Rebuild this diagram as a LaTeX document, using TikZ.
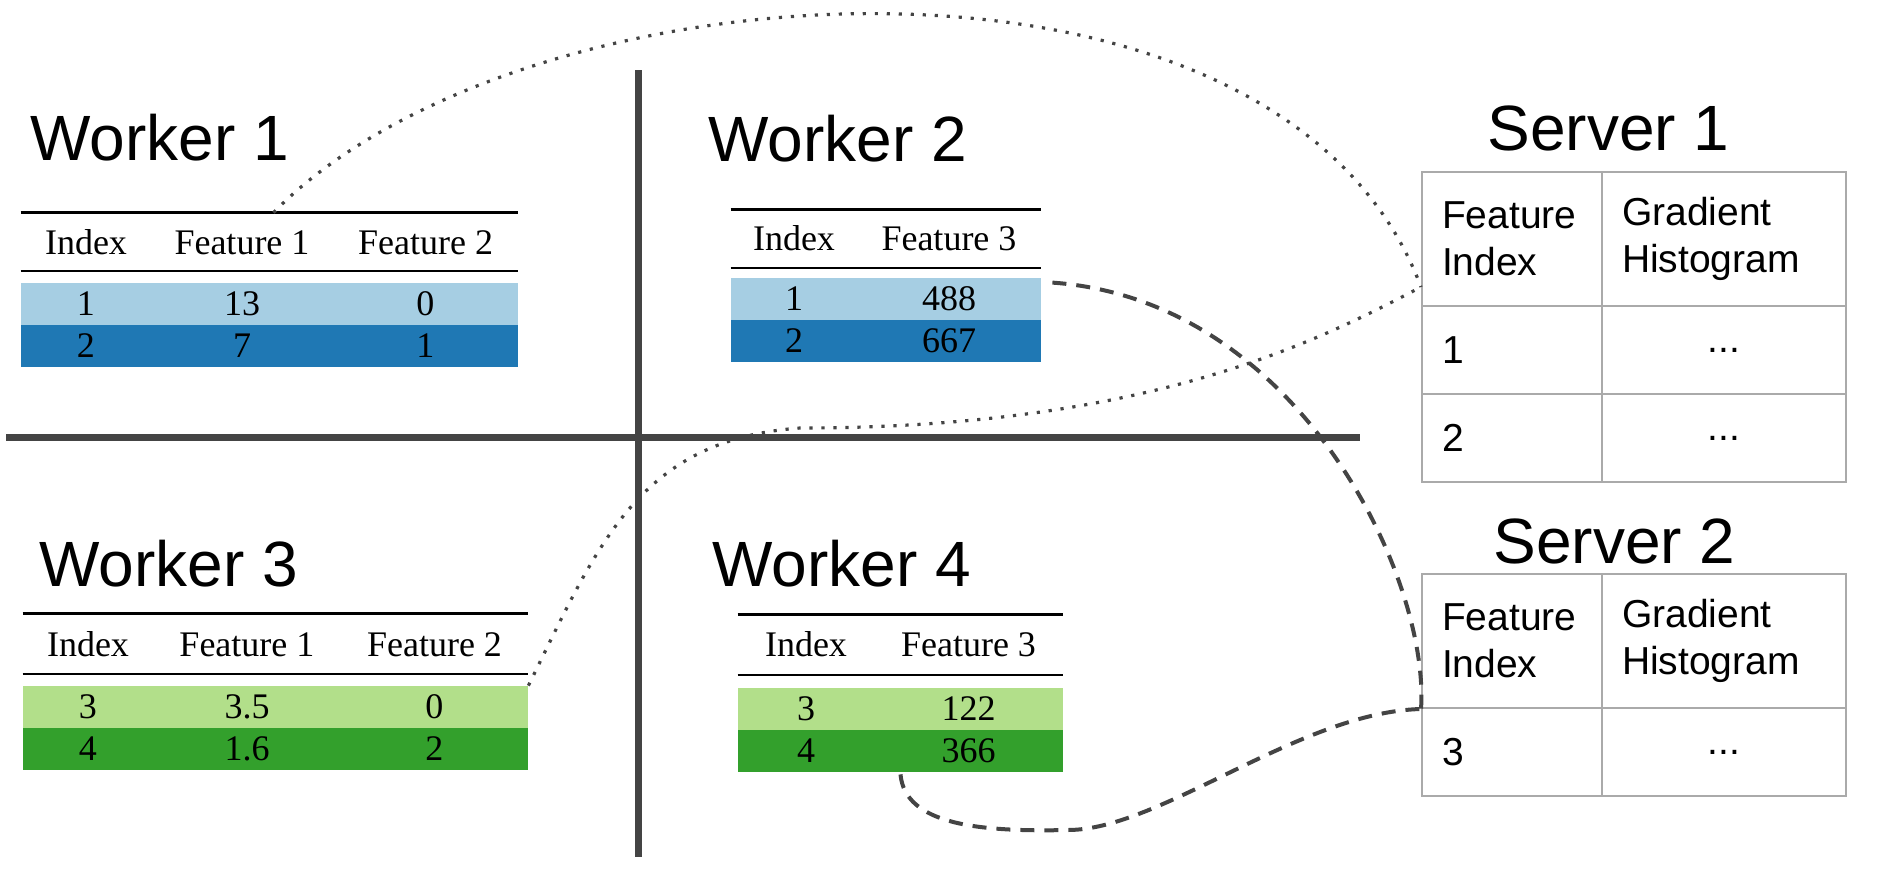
\documentclass[tikz,border=0pt]{standalone}
\usepackage{fontspec}
\newfontfamily\titlefont{Liberation Sans}
\newfontfamily\tabfont{Liberation Serif}
\definecolor{bluelt}{HTML}{A6CEE3}
\definecolor{bluedk}{HTML}{1F78B4}
\definecolor{greenlt}{HTML}{B2DF8A}
\definecolor{greendk}{HTML}{33A02C}
\definecolor{cellgray}{HTML}{AAAAAA}
\definecolor{linegray}{HTML}{444444}
\begin{document}
\begin{tikzpicture}[
    x=0.5pt, y=-0.5pt,
    wtitle/.style={anchor=base west, inner sep=0, font=\titlefont\fontsize{32}{38}\selectfont},
    thead/.style={rectangle, inner sep=0, minimum height=29pt, font=\tabfont\fontsize{18}{21}\selectfont},
    trow/.style={thead, minimum height=21pt},
    rowbl/.style={trow, fill=bluelt},
    rowbd/.style={trow, fill=bluedk},
    rowgl/.style={trow, fill=greenlt},
    rowgd/.style={trow, fill=greendk},
    toprule/.style={line width=1.5pt},
    midrule/.style={line width=1pt},
    cross/.style={line width=3.5pt, linegray},
    scell/.style={rectangle, draw=cellgray, line width=1pt, inner xsep=10pt, inner ysep=0, align=left, font=\titlefont\fontsize{19.5}{23.5}\selectfont},
    dotline/.style={linegray, line width=1.6pt, dash pattern=on 1.6pt off 4.4pt},
    dashline/.style={linegray, line width=2pt, dash pattern=on 7pt off 5pt}
]
\useasboundingbox (0,0) rectangle (1885,873);

% Quadrant lines
\draw[cross] (638,70) -- (638,857);
\draw[cross] (6,437) -- (1360,437);

% Worker 1
\node[wtitle] (w1title) at (30,160) {Worker 1};
\node[thead] (w1head) at (269.5,242) {\makebox[65pt]{Index}\makebox[91pt]{Feature 1}\makebox[92.5pt]{Feature 2}};
\node[rowbl] (w1r1) at (269.5,304) {\makebox[65pt]{1}\makebox[91pt]{13}\makebox[92.5pt]{0}};
\node[rowbd] (w1r2) at (269.5,346) {\makebox[65pt]{2}\makebox[91pt]{7}\makebox[92.5pt]{1}};
\draw[toprule] (w1head.north west) -- (w1head.north east);
\draw[midrule] (w1head.south west) -- (w1head.south east);

% Worker 2
\node[wtitle] (w2title) at (708,161) {Worker 2};
\node[thead] (w2head) at (886,238.5) {\makebox[63pt]{Index}\makebox[92pt]{Feature 3}};
\node[rowbl] (w2r1) at (886,299) {\makebox[63pt]{1}\makebox[92pt]{488}};
\node[rowbd] (w2r2) at (886,341) {\makebox[63pt]{2}\makebox[92pt]{667}};
\draw[toprule] (w2head.north west) -- (w2head.north east);
\draw[midrule] (w2head.south west) -- (w2head.south east);

% Worker 3
\node[wtitle] (w3title) at (39,586) {Worker 3};
\node[thead, minimum height=30pt] (w3head) at (275.5,644) {\makebox[65pt]{Index}\makebox[94pt]{Feature 1}\makebox[93.5pt]{Feature 2}};
\node[rowgl] (w3r1) at (275.5,707) {\makebox[65pt]{3}\makebox[94pt]{3.5}\makebox[93.5pt]{0}};
\node[rowgd] (w3r2) at (275.5,749) {\makebox[65pt]{4}\makebox[94pt]{1.6}\makebox[93.5pt]{2}};
\draw[toprule] (w3head.north west) -- (w3head.north east);
\draw[midrule] (w3head.south west) -- (w3head.south east);

% Worker 4
\node[wtitle] (w4title) at (712,586) {Worker 4};
\node[thead, minimum height=30pt] (w4head) at (900.5,644.5) {\makebox[68pt]{Index}\makebox[94.5pt]{Feature 3}};
\node[rowgl] (w4r1) at (900.5,709) {\makebox[68pt]{3}\makebox[94.5pt]{122}};
\node[rowgd] (w4r2) at (900.5,751) {\makebox[68pt]{4}\makebox[94.5pt]{366}};
\draw[toprule] (w4head.north west) -- (w4head.north east);
\draw[midrule] (w4head.south west) -- (w4head.south east);

% Server 1
\node[wtitle] (s1title) at (1487,150) {Server 1};
\node[scell, text width=70pt, minimum height=67pt] (s1h1) at (1512,239) {Feature\\Index};
\node[scell, text width=102pt, minimum height=67pt] (s1h2) at (1724,239) {Gradient\\Histogram};
\node[scell, text width=70pt, minimum height=44pt] (s1r1a) at (1512,350) {1};
\node[scell, text width=102pt, minimum height=44pt, align=center] (s1r1b) at (1724,350) {...};
\node[scell, text width=70pt, minimum height=44pt] (s1r2a) at (1512,438) {2};
\node[scell, text width=102pt, minimum height=44pt, align=center] (s1r2b) at (1724,438) {...};

% Server 2
\node[wtitle] (s2title) at (1493,563) {Server 2};
\node[scell, text width=70pt, minimum height=67pt] (s2h1) at (1512,641) {Feature\\Index};
\node[scell, text width=102pt, minimum height=67pt] (s2h2) at (1724,641) {Gradient\\Histogram};
\node[scell, text width=70pt, minimum height=44pt] (s2r1a) at (1512,752) {3};
\node[scell, text width=102pt, minimum height=44pt, align=center] (s2r1b) at (1724,752) {...};

% Feature 1 and 2 go to server 1
\draw[dotline] ([xshift=2pt]w1head.north) .. controls (520,-40) and (1280,-90) .. ([yshift=10pt]s1h1.south west);
\draw[dotline] (w3r1.north east) .. controls (600,540) and (640,440) .. (800,428) .. controls (1150,428) and (1320,340) .. ([yshift=10pt]s1h1.south west);

% Feature 3 goes to server 2
\draw[dashline] ([xshift=5.5pt,yshift=-2.5pt]w2r1.north east) .. controls (1300,300) and (1430,580) .. (s2h1.south west);
\draw[dashline] ([yshift=-1pt]w4r2.south) .. controls (905,825) and (980,832) .. (1068,830) .. controls (1160,830) and (1300,712) .. (s2h1.south west);

\end{tikzpicture}
\end{document}
